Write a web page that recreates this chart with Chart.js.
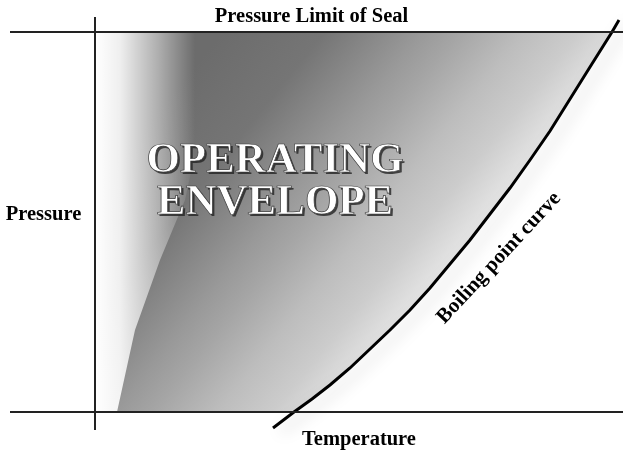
<!DOCTYPE html>
<html>
<head>
<meta charset="utf-8">
<script src="https://cdn.jsdelivr.net/npm/chart.js@4.4.1/dist/chart.umd.min.js"></script>
<style>
  html, body { margin: 0; padding: 0; background: #fff; }
  #wrap { width: 623px; height: 450px; position: relative; }
</style>
</head>
<body>
<div id="wrap"><canvas id="envelopeChart"></canvas></div>
<script>
// boiling point curve (temperature / pressure, arbitrary units, origin where the axes cross)
const curveTemperature = [3.56, 3.98, 4.34, 4.70, 5.10, 5.50, 5.90, 6.30, 6.70, 7.10, 7.50, 7.90, 8.30, 8.70, 9.10, 9.50, 9.90, 10.34, 10.48];
const curvePressure = [-0.32, 0, 0.26, 0.54, 0.88, 1.26, 1.64, 2.04, 2.48, 2.96, 3.44, 3.96, 4.48, 5.04, 5.62, 6.26, 6.90, 7.6, 7.84];

const sealPressureLimit = 7.6;

// edge of the pale band along the pressure axis
const bandTemperature = [0, 0.44, 0.8, 1.3, 1.8, 2.06, 2.2];
const bandPressure = [0, 0, 1.64, 3.04, 4.24, 5.44, 7.6];

// visible window and axis line extents
const temperatureRange = [-1.9, 10.56];
const pressureRange = [-0.76, 8.24];
const axisTemperatureExtent = [-1.7, 10.56];
const axisPressureExtent = [-0.36, 7.9];

const SERIF = "'Liberation Serif', 'Times New Roman', serif";

const curvePoints = curveTemperature.map((t, i) => ({ x: t, y: curvePressure[i] }));
const envelopePoints = [{ x: 0, y: 0 }].concat(
  curvePoints.filter((p) => p.y >= 0 && p.y <= sealPressureLimit)
);
const bandPoints = bandTemperature.map((t, i) => ({ x: t, y: bandPressure[i] }));

function envelopeGradient(context) {
  const chart = context.chart;
  if (!chart.chartArea) return "rgba(0,0,0,0)";
  const xs = chart.scales.x;
  const ys = chart.scales.y;
  const g = chart.ctx.createLinearGradient(
    xs.getPixelForValue(2.1), ys.getPixelForValue(7.04),
    xs.getPixelForValue(7.72), ys.getPixelForValue(2.5)
  );
  g.addColorStop(0, "#6c6c6c");
  g.addColorStop(0.22, "#757575");
  g.addColorStop(0.43, "#999999");
  g.addColorStop(0.51, "#a5a5a5");
  g.addColorStop(0.65, "#bdbdbd");
  g.addColorStop(0.77, "#cccccc");
  g.addColorStop(0.9, "#e6e6e6");
  g.addColorStop(1, "#f2f2f2");
  return g;
}

function bandGradient(context) {
  const chart = context.chart;
  if (!chart.chartArea) return "rgba(0,0,0,0)";
  const xs = chart.scales.x;
  const g = chart.ctx.createLinearGradient(xs.getPixelForValue(0), 0, xs.getPixelForValue(2.0), 0);
  g.addColorStop(0, "rgba(255,255,255,1)");
  g.addColorStop(0.25, "rgba(255,255,255,0.89)");
  g.addColorStop(0.45, "rgba(255,255,255,0.66)");
  g.addColorStop(0.65, "rgba(255,255,255,0.43)");
  g.addColorStop(0.9, "rgba(255,255,255,0.12)");
  g.addColorStop(1, "rgba(255,255,255,0)");
  return g;
}

function lineSet(label, data, extra) {
  return Object.assign({
    label,
    data,
    showLine: true,
    fill: false,
    tension: 0,
    pointRadius: 0,
    pointHitRadius: 0,
    borderColor: "#222",
    borderWidth: 2
  }, extra);
}

const curveShadowPlugin = {
  id: "curveShadow",
  beforeDatasetDraw(chart, args) {
    if (chart.data.datasets[args.index].label !== "Boiling point curve") return;
    const ctx = chart.ctx;
    ctx.save();
    ctx.shadowColor = "rgba(0,0,0,0.22)";
    ctx.shadowBlur = 16;
    ctx.shadowOffsetX = 8;
    ctx.shadowOffsetY = 4;
  },
  afterDatasetDraw(chart, args) {
    if (chart.data.datasets[args.index].label !== "Boiling point curve") return;
    chart.ctx.restore();
  }
};

const labelPlugin = {
  id: "diagramLabels",
  afterDatasetsDraw(chart) {
    const ctx = chart.ctx;
    const xs = chart.scales.x;
    const ys = chart.scales.y;
    const px = (v) => xs.getPixelForValue(v);
    const py = (v) => ys.getPixelForValue(v);

    ctx.save();
    ctx.fillStyle = "#000";
    ctx.textAlign = "center";
    ctx.textBaseline = "alphabetic";
    ctx.font = "bold 20.5px " + SERIF;
    ctx.fillText("Pressure Limit of Seal", px(4.33), py(7.8));
    ctx.fillText("Pressure", px(-1.03), py(3.84));
    ctx.fillText("Temperature", px(5.28), py(-0.66));

    ctx.save();
    ctx.translate(px(8.08), py(3.08));
    ctx.rotate(-47 * Math.PI / 180);
    ctx.textBaseline = "middle";
    ctx.font = "bold 21px " + SERIF;
    ctx.fillText("Boiling point curve", 0, 0);
    ctx.restore();

    // embossed title
    ctx.font = "bold 43px " + SERIF;
    const title = [["OPERATING", 4.8], ["ENVELOPE", 3.96]];
    title.forEach(([text, y]) => {
      const x0 = px(3.6);
      const y0 = py(y);
      ctx.fillStyle = "rgba(35,35,35,0.8)";
      ctx.fillText(text, x0 + 2, y0 + 2);
      ctx.fillStyle = "#fff";
      ctx.fillText(text, x0, y0);
      ctx.strokeStyle = "#3a3a3a";
      ctx.lineWidth = 0.7;
      ctx.strokeText(text, x0, y0);
    });
    ctx.restore();
  }
};

new Chart(document.getElementById("envelopeChart").getContext("2d"), {
  type: "scatter",
  data: {
    datasets: [
      lineSet("Operating envelope", envelopePoints, {
        borderWidth: 0,
        borderColor: "rgba(0,0,0,0)",
        backgroundColor: envelopeGradient,
        fill: { value: sealPressureLimit },
        order: 9
      }),
      lineSet("Axis band", bandPoints, {
        borderWidth: 0,
        borderColor: "rgba(0,0,0,0)",
        backgroundColor: bandGradient,
        fill: { value: sealPressureLimit },
        order: 8
      }),
      lineSet("Boiling point curve", curvePoints, {
        borderWidth: 3,
        borderColor: "#000",
        order: 3
      }),
      lineSet("Pressure Limit of Seal",
        axisTemperatureExtent.map((t) => ({ x: t, y: sealPressureLimit })), { order: 2 }),
      lineSet("Temperature axis",
        axisTemperatureExtent.map((t) => ({ x: t, y: 0 })), { order: 2 }),
      lineSet("Pressure axis",
        axisPressureExtent.map((p) => ({ x: 0, y: p })), { order: 2 })
    ]
  },
  options: {
    responsive: true,
    maintainAspectRatio: false,
    animation: false,
    events: [],
    layout: { padding: 0 },
    scales: {
      x: {
        type: "linear",
        min: temperatureRange[0],
        max: temperatureRange[1],
        bounds: "data",
        display: false
      },
      y: {
        type: "linear",
        min: pressureRange[0],
        max: pressureRange[1],
        bounds: "data",
        display: false
      }
    },
    plugins: {
      legend: { display: false },
      tooltip: { enabled: false }
    }
  },
  plugins: [curveShadowPlugin, labelPlugin]
});
</script>
</body>
</html>
